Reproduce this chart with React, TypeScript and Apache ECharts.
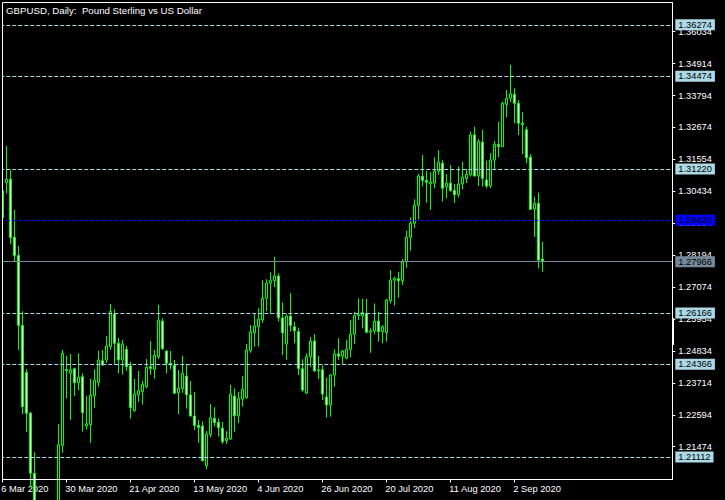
import React, { useEffect, useRef } from "react";
import * as echarts from "echarts";

const TITLE = "GBPUSD, Daily:  Pound Sterling vs US Dollar";
const START_DATE = "2020-03-06";
const SLOT_COUNT = 168;
const LABEL_EVERY = 16;

const opens = [
  1.2951, 1.3074, 1.3086, 1.2882, 1.2818, 1.2573, 1.2408, 1.2265, 1.2054, 1.165,
  1.16, 1.163, 1.152, 1.176, 1.188, 1.2152, 1.2418, 1.2405, 1.2421, 1.2372,
  1.2393, 1.222, 1.2225, 1.2326, 1.2373, 1.2449, 1.2452, 1.2498, 1.2613, 1.251,
  1.2452, 1.2489, 1.2431, 1.2274, 1.2329, 1.234, 1.2358, 1.2428, 1.2419, 1.2463,
  1.2588, 1.2483, 1.244, 1.2433, 1.2337, 1.2351, 1.2395, 1.2329, 1.2255, 1.2223,
  1.222, 1.2081, 1.219, 1.2247, 1.2233, 1.2212, 1.2169, 1.2174, 1.2325, 1.2256,
  1.2314, 1.2319, 1.2484, 1.2547, 1.2568, 1.2592, 1.2668, 1.2721, 1.273, 1.2746,
  1.2599, 1.2508, 1.2606, 1.2568, 1.2551, 1.2421, 1.2335, 1.2463, 1.2518, 1.2414,
  1.2417, 1.2322, 1.2294, 1.2399, 1.2473, 1.2465, 1.2458, 1.2489, 1.2542, 1.2607,
  1.2606, 1.2615, 1.2549, 1.2553, 1.2588, 1.2551, 1.2548, 1.266, 1.2732, 1.2737,
  1.273, 1.2796, 1.2882, 1.2931, 1.2994, 1.3096, 1.3082, 1.307, 1.3072, 1.3114,
  1.3142, 1.306, 1.3072, 1.3046, 1.3032, 1.3069, 1.3088, 1.3101, 1.3241, 1.3098,
  1.3216, 1.3083, 1.3062, 1.3153, 1.3208, 1.32, 1.3348, 1.337, 1.3384, 1.3352,
  1.3282, 1.3259, 1.3163, 1.2981, 1.3001, 1.2806,
];
const highs = [
  1.3052, 1.3202, 1.3118, 1.2978, 1.2852, 1.2623, 1.2419, 1.227, 1.2128, 1.18,
  1.175, 1.172, 1.178, 1.192, 1.2227, 1.2487, 1.2466, 1.2473, 1.2425, 1.2475,
  1.2405, 1.2325, 1.2386, 1.2419, 1.2484, 1.2487, 1.2536, 1.2648, 1.263, 1.2529,
  1.2522, 1.2501, 1.2445, 1.2385, 1.2413, 1.2378, 1.2455, 1.2518, 1.2487, 1.2645,
  1.2598, 1.2487, 1.2483, 1.2452, 1.2416, 1.2466, 1.2438, 1.2378, 1.2339, 1.2241,
  1.2236, 1.2202, 1.2297, 1.2286, 1.2247, 1.2234, 1.2202, 1.2364, 1.2352, 1.234,
  1.2395, 1.2508, 1.2574, 1.2615, 1.2633, 1.2732, 1.2735, 1.2759, 1.2814, 1.2756,
  1.2654, 1.2612, 1.2686, 1.2586, 1.2565, 1.2454, 1.2475, 1.2532, 1.2543, 1.2466,
  1.2433, 1.2389, 1.2402, 1.2489, 1.2528, 1.2487, 1.2522, 1.2592, 1.2621, 1.2668,
  1.2666, 1.2666, 1.2563, 1.265, 1.2621, 1.2574, 1.2666, 1.2767, 1.2744, 1.2761,
  1.2806, 1.2905, 1.2952, 1.3015, 1.3104, 1.3171, 1.3115, 1.311, 1.3163, 1.3188,
  1.3153, 1.3104, 1.3136, 1.3069, 1.313, 1.3147, 1.3122, 1.3253, 1.327, 1.3227,
  1.3259, 1.3151, 1.3177, 1.322, 1.3287, 1.3358, 1.3399, 1.3487, 1.3405, 1.3364,
  1.3321, 1.327, 1.3174, 1.3024, 1.3039, 1.2866,
];
const lows = [
  1.2946, 1.3036, 1.2858, 1.2797, 1.2487, 1.2262, 1.22, 1.2005, 1.145, 1.1452,
  1.1409, 1.1455, 1.148, 1.163, 1.185, 1.2126, 1.2316, 1.2241, 1.2325, 1.2346,
  1.22, 1.2208, 1.2161, 1.2283, 1.2358, 1.2431, 1.2442, 1.2487, 1.2435, 1.2405,
  1.2401, 1.2414, 1.2246, 1.227, 1.2305, 1.2295, 1.2352, 1.2401, 1.2386, 1.2455,
  1.2487, 1.2405, 1.2419, 1.2332, 1.2262, 1.2337, 1.2281, 1.2253, 1.2206, 1.2161,
  1.2096, 1.2068, 1.218, 1.2218, 1.2183, 1.2157, 1.2157, 1.2171, 1.22, 1.2231,
  1.2288, 1.2315, 1.2477, 1.2498, 1.2498, 1.2582, 1.2623, 1.2615, 1.2707, 1.2586,
  1.2469, 1.2452, 1.2551, 1.251, 1.2399, 1.234, 1.2332, 1.2428, 1.2409, 1.2385,
  1.2311, 1.2249, 1.2253, 1.2358, 1.2452, 1.2436, 1.2454, 1.2461, 1.2507, 1.2592,
  1.2563, 1.2545, 1.2477, 1.2542, 1.2516, 1.251, 1.2516, 1.265, 1.2642, 1.267,
  1.2715, 1.2775, 1.2835, 1.2914, 1.2945, 1.306, 1.3003, 1.2978, 1.3054, 1.3101,
  1.3007, 1.3019, 1.3042, 1.3003, 1.3022, 1.305, 1.3072, 1.3095, 1.3095, 1.3062,
  1.306, 1.3054, 1.3055, 1.3118, 1.3163, 1.3198, 1.3303, 1.3356, 1.3282, 1.3241,
  1.3174, 1.3142, 1.2978, 1.2884, 1.2773, 1.2761,
];
const closes = [
  1.3045, 1.3086, 1.2881, 1.2818, 1.2573, 1.2288, 1.2265, 1.2054, 1.165, 1.16,
  1.163, 1.152, 1.176, 1.188, 1.2154, 1.2475, 1.2414, 1.2417, 1.2372, 1.2391,
  1.2267, 1.2228, 1.2328, 1.2381, 1.2452, 1.2434, 1.2501, 1.2622, 1.251, 1.2452,
  1.2508, 1.2428, 1.2284, 1.2332, 1.2344, 1.2366, 1.2426, 1.2422, 1.2468, 1.2591,
  1.2491, 1.244, 1.2434, 1.2335, 1.2352, 1.2405, 1.233, 1.2255, 1.2222, 1.2215,
  1.2098, 1.2192, 1.2249, 1.2232, 1.2214, 1.2165, 1.2177, 1.2332, 1.2256, 1.2317,
  1.2349, 1.2487, 1.255, 1.2571, 1.2595, 1.2668, 1.2721, 1.273, 1.2746, 1.26,
  1.2547, 1.2606, 1.2573, 1.2554, 1.2422, 1.2346, 1.2463, 1.2518, 1.2414, 1.2417,
  1.2332, 1.2294, 1.2399, 1.2473, 1.2465, 1.2483, 1.2489, 1.2542, 1.2607, 1.2612,
  1.2618, 1.2549, 1.2553, 1.2588, 1.2551, 1.2568, 1.2662, 1.2732, 1.2737, 1.273,
  1.2796, 1.2882, 1.2931, 1.2995, 1.3097, 1.3082, 1.3075, 1.3076, 1.3114, 1.3146,
  1.3054, 1.3072, 1.3046, 1.3032, 1.3069, 1.3093, 1.3103, 1.3241, 1.3097, 1.3218,
  1.3089, 1.3062, 1.3153, 1.3208, 1.32, 1.3352, 1.337, 1.3385, 1.3352, 1.3282,
  1.3278, 1.3161, 1.298, 1.3001, 1.2802, 1.27966,
];

const yTicks = [
  1.21474, 1.22594, 1.23714, 1.24834, 1.25954, 1.27074, 1.28194, 1.29314,
  1.30434, 1.31554, 1.32674, 1.33794, 1.34914, 1.36034,
];
const levelLines = [1.36274, 1.34474, 1.3122, 1.26166, 1.24366, 1.21112];
const blueLevel = 1.2942;
const lastPrice = 1.27966;

const Y_MIN = 1.20323;
const Y_MAX = 1.37058;

const MONTHS = ["Jan", "Feb", "Mar", "Apr", "May", "Jun", "Jul", "Aug", "Sep", "Oct", "Nov", "Dec"];

function weekdayLabels(start: string, n: number): string[] {
  const out: string[] = [];
  const d = new Date(start + "T00:00:00Z");
  while (out.length < n) {
    const wd = d.getUTCDay();
    if (wd !== 0 && wd !== 6) {
      out.push(`${d.getUTCDate()} ${MONTHS[d.getUTCMonth()]} ${d.getUTCFullYear()}`);
    }
    d.setUTCDate(d.getUTCDate() + 1);
  }
  return out;
}

const FONT = "'Liberation Sans', Arial, sans-serif";
const FS = 9.3;
const LIGHT_BLUE = "#ADD8E6";

export default function App() {
  const ref = useRef<HTMLDivElement>(null);

  useEffect(() => {
    if (!ref.current) return;
    const chart = echarts.init(ref.current, undefined, { renderer: "svg" });
    const categories = weekdayLabels(START_DATE, SLOT_COUNT);
    const nData = opens.length;
    const candles = opens.map((o, i) => [o, closes[i], lows[i], highs[i]]);
    const showIdx = (index: number) => index % LABEL_EVERY === 0 && index < nData;

    const lineLabel = (bg: string) => ({
      backgroundColor: bg,
      color: "#000000",
    });

    const markData: any[] = [
      ...levelLines.map((v) => ({
        yAxis: v,
        lineStyle: { color: LIGHT_BLUE, type: [4, 2], width: 1 },
        label: lineLabel(LIGHT_BLUE),
      })),
      {
        yAxis: blueLevel,
        lineStyle: { color: "#0000FF", type: [4, 2], width: 1 },
        label: lineLabel("#0000FF"),
      },
      {
        yAxis: lastPrice,
        lineStyle: { color: "#778899", type: "solid", width: 1 },
        label: lineLabel("#778899"),
      },
    ];

    chart.setOption({
      animation: false,
      backgroundColor: "#000000",
      grid: {
        left: 0.3,
        right: 52.7,
        top: 2.5,
        height: 477,
        outerBoundsMode: "none",
        containLabel: false,
      },
      xAxis: {
        type: "category",
        data: categories,
        boundaryGap: true,
        axisLine: { show: true, lineStyle: { color: "#FFFFFF", width: 1 } },
        axisTick: {
          show: true,
          length: 3,
          alignWithLabel: true,
          interval: (index: number) => showIdx(index),
          lineStyle: { color: "#FFFFFF" },
        },
        axisLabel: {
          show: true,
          interval: (index: number) => showIdx(index),
          color: "#FFFFFF",
          fontFamily: FONT,
          fontSize: FS,
          align: "left",
          margin: 5,
          padding: [0, 0, 0, -1],
        },
        splitLine: { show: false },
      },
      yAxis: {
        type: "value",
        position: "right",
        min: Y_MIN,
        max: Y_MAX,
        scale: true,
        axisLine: { show: true, lineStyle: { color: "#FFFFFF", width: 1 } },
        axisTick: {
          show: true,
          length: 3,
          customValues: yTicks,
          lineStyle: { color: "#FFFFFF" },
        },
        axisLabel: {
          show: true,
          customValues: yTicks,
          color: "#FFFFFF",
          fontFamily: FONT,
          fontSize: FS,
          margin: 6,
          formatter: (v: number) => v.toFixed(5),
        },
        splitLine: { show: false },
      },
      series: [
        {
          type: "candlestick",
          data: candles,
          barWidth: 2,
          clip: true,
          itemStyle: {
            color: "#000000",
            color0: "#FFFFFF",
            borderColor: "#00FF00",
            borderColor0: "#00FF00",
            borderWidth: 1,
          },
          markLine: {
            silent: true,
            symbol: ["none", "none"],
            precision: 5,
            animation: false,
            label: {
              show: true,
              position: "end",
              distance: 3,
              formatter: (p: any) => Number(p.value).toFixed(5),
              fontFamily: FONT,
              fontSize: FS,
              lineHeight: 11,
              padding: [0, 3, 0, 3],
            },
            data: markData,
          },
        },
      ],
      graphic: [
        {
          type: "rect",
          z: 99,
          silent: true,
          shape: { x: 0, y: 0, width: 2, height: 480 },
          style: { fill: "#000000" },
        },
        {
          type: "rect",
          z: 100,
          silent: true,
          shape: { x: 2.5, y: 2.5, width: 670, height: 477 },
          style: { fill: "none", stroke: "#FFFFFF", lineWidth: 1 },
        },
        {
          type: "rect",
          z: 100,
          silent: true,
          shape: { x: 672, y: 318, width: 2, height: 27 },
          style: { fill: "#FFFFFF" },
        },
        {
          type: "text",
          z: 100,
          left: 6,
          top: 5,
          style: {
            text: TITLE,
            fill: "#FFFFFF",
            fontFamily: FONT,
            fontSize: 9.7,
          },
        },
      ],
    });

    return () => chart.dispose();
  }, []);

  return (
    <div
      ref={ref}
      style={{ position: "absolute", left: 0, top: 0, width: 725, height: 500 }}
    />
  );
}
